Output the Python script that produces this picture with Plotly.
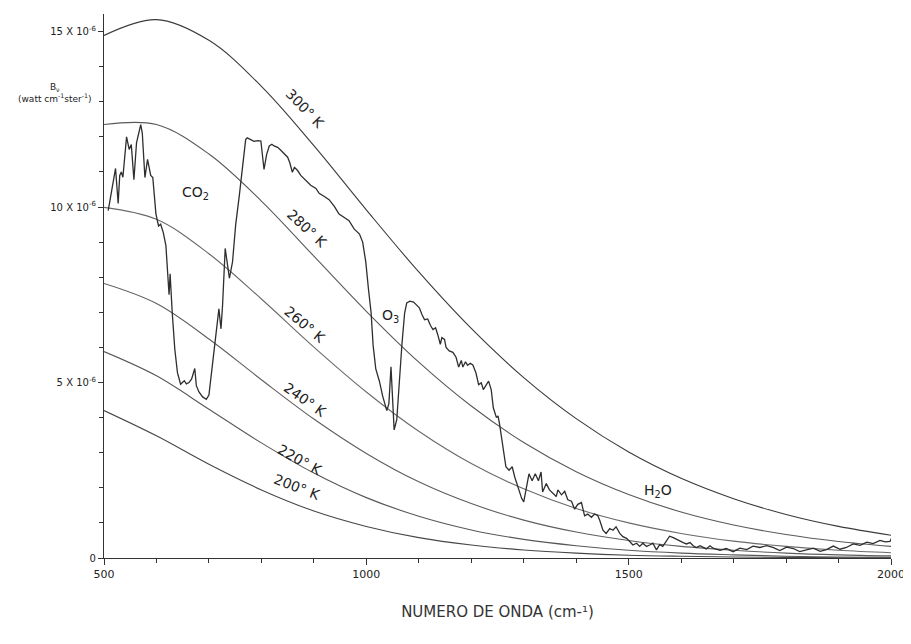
import plotly.graph_objects as go

# ---- data (values in units of 1e-6 watt cm^-1 ster^-1) ----
wavenumber = [500, 600, 700, 800, 900, 1000, 1100, 1200, 1300, 1400,
              1500, 1600, 1700, 1800, 1900, 2000]
b_300 = [14.89, 15.34, 14.75, 13.44, 11.75, 9.92, 8.15, 6.54, 5.14, 3.97,
         3.02, 2.27, 1.69, 1.24, 0.90, 0.65]
b_280 = [12.35, 12.35, 11.51, 10.17, 8.60, 7.03, 5.58, 4.33, 3.29, 2.46,
         1.81, 1.31, 0.94, 0.67, 0.47, 0.33]
b_260 = [9.99, 9.65, 8.67, 7.38, 6.01, 4.73, 3.61, 2.69, 1.97, 1.41,
         1.00, 0.70, 0.48, 0.33, 0.22, 0.15]
b_240 = [7.82, 7.25, 6.24, 5.08, 3.96, 2.98, 2.17, 1.55, 1.08, 0.74,
         0.50, 0.33, 0.22, 0.14, 0.09, 0.06]
b_220 = [5.88, 5.19, 4.24, 3.28, 2.42, 1.72, 1.19, 0.80, 0.53, 0.35,
         0.22, 0.14, 0.09, 0.05, 0.03, 0.02]
b_200 = [4.20, 3.48, 2.67, 1.94, 1.34, 0.90, 0.58, 0.37, 0.23, 0.14,
         0.08, 0.05, 0.03, 0.017, 0.009, 0.005]
temp_labels = ["300° K", "280° K", "260° K", "240° K", "220° K", "200° K"]

spec_nu = [508, 515, 522, 527, 530, 533, 536, 543, 548, 552, 557, 562, 570, 573,
           578, 583, 586, 589, 593, 599, 604, 608, 613, 618, 621, 624, 626, 628,
           630, 635, 640, 646, 653, 657, 662, 667, 673, 676, 681, 688, 695, 700,
           707, 713, 719, 723, 726, 731, 735, 739, 745, 751, 758, 765, 770, 773,
           780, 786, 793, 799, 805, 810, 815, 820, 824, 831, 837, 844, 850, 854,
           859, 863, 869, 875, 885, 894, 904, 910, 920, 929, 939, 948, 958, 967,
           977, 987, 993, 999, 1004, 1009, 1013, 1018, 1025, 1031, 1039, 1043,
           1047, 1050, 1053, 1058, 1063, 1068, 1073, 1077, 1083, 1090, 1095,
           1101, 1106, 1111, 1117, 1122, 1127, 1132, 1136, 1141, 1144, 1149,
           1152, 1158, 1165, 1171, 1176, 1181, 1184, 1189, 1193, 1198, 1203,
           1209, 1214, 1219, 1223, 1228, 1233, 1238, 1242, 1248, 1251, 1254,
           1257, 1262, 1266, 1272, 1278, 1283, 1290, 1296, 1300, 1305, 1310,
           1316, 1322, 1328, 1333, 1336, 1343, 1349, 1356, 1362, 1365, 1372,
           1378, 1384, 1391, 1397, 1403, 1410, 1416, 1422, 1429, 1435, 1441,
           1445, 1451, 1457, 1464, 1470, 1476, 1483, 1489, 1496, 1502, 1508,
           1515, 1521, 1527, 1534, 1540, 1546, 1553, 1559, 1565, 1572, 1578,
           1585, 1591, 1597, 1604, 1610, 1617, 1623, 1629, 1636, 1642, 1648,
           1655, 1661, 1674, 1686, 1699, 1712, 1725, 1737, 1750, 1763, 1775,
           1788, 1801, 1814, 1826, 1839, 1852, 1865, 1877, 1890, 1903, 1915,
           1928, 1941, 1954, 1966, 1979, 1989, 1998, 2002]
spec_b = [9.9, 10.5, 11.1, 10.1, 10.9, 11.0, 10.85, 12.0, 11.64, 11.78, 10.78, 11.83,
          12.35, 12.1, 10.84, 11.36, 11.12, 10.9, 10.84, 9.8, 9.46, 9.51, 9.27, 8.9,
          8.2, 7.5, 8.1, 7.4, 7.0, 5.94, 5.28, 4.95, 5.05, 4.96, 5.0, 5.1, 5.4,
          4.91, 4.73, 4.59, 4.52, 4.64, 5.49, 6.25, 7.1, 6.53, 7.2, 8.82, 8.35,
          7.97, 8.44, 9.5, 10.34, 11.2, 11.92, 11.97, 11.92, 11.87, 11.89, 11.88,
          11.07, 11.5, 11.74, 11.79, 11.74, 11.7, 11.62, 11.51, 11.42, 11.27,
          10.99, 11.13, 11.04, 10.9, 10.76, 10.62, 10.53, 10.39, 10.3, 10.21,
          10.02, 9.8, 9.7, 9.61, 9.37, 9.23, 9.0, 8.43, 7.67, 7.0, 6.05, 5.39,
          5.03, 4.62, 4.2, 4.4, 5.45, 4.41, 3.65, 3.94, 5.18, 6.12, 6.98, 7.27,
          7.32, 7.29, 7.22, 7.13, 6.94, 6.79, 6.81, 6.63, 6.51, 6.56, 6.37, 6.09,
          6.28, 6.23, 6.0, 5.9, 5.86, 5.72, 5.44, 5.63, 5.44, 5.59, 5.49, 5.55,
          5.5, 5.27, 4.94, 4.99, 4.8, 4.94, 5.04, 4.8, 4.28, 4.0, 4.05, 3.81,
          3.53, 3.0, 2.6, 2.5, 2.6, 2.3, 2.0, 1.7, 1.6, 2.0, 2.4, 2.2, 2.4, 2.2,
          2.45, 1.88, 2.12, 1.94, 1.84, 1.75, 1.94, 1.8, 1.9, 1.66, 1.62, 1.39,
          1.53, 1.58, 1.2, 1.25, 1.16, 1.25, 1.21, 1.07, 0.79, 0.7, 0.84, 0.79,
          0.89, 0.7, 0.61, 0.56, 0.47, 0.37, 0.42, 0.33, 0.42, 0.33, 0.37, 0.42,
          0.23, 0.38, 0.33, 0.48, 0.62, 0.58, 0.53, 0.49, 0.44, 0.4, 0.44, 0.35,
          0.3, 0.35, 0.3, 0.26, 0.35, 0.28, 0.22, 0.27, 0.18, 0.28, 0.24, 0.34,
          0.3, 0.35, 0.3, 0.21, 0.31, 0.27, 0.18, 0.23, 0.28, 0.19, 0.24, 0.34,
          0.25, 0.3, 0.4, 0.36, 0.45, 0.41, 0.5, 0.46, 0.47, 0.6]

ytick_vals = [0, 5, 10, 15]
ytick_text = ["0", "5 X 10<sup>-6</sup>", "10 X 10<sup>-6</sup>", "15 X 10<sup>-6</sup>"]
xtick_vals = [500, 1000, 1500, 2000]
xtick_text = ["500", "1000", "1500", "2000"]

curves = [b_300, b_280, b_260, b_240, b_220, b_200]
curve_colors = ["#3a3a3a", "#5a5a5a", "#6a6a6a", "#5e5e5e", "#585858", "#474747"]

fig = go.Figure()
for vals, col, name in zip(curves, curve_colors, temp_labels):
    fig.add_trace(go.Scatter(x=wavenumber, y=vals, mode="lines", name=name,
                             line=dict(color=col, width=1.1, shape="spline"),
                             hoverinfo="skip"))
fig.add_trace(go.Scatter(x=spec_nu, y=spec_b, mode="lines", name="espectro",
                         line=dict(color="#2e2e2e", width=1.3)))

# curve labels (position in data coordinates, angle along curve)
label_pos = [(884, 12.8, 46), (886, 9.4, 43), (884, 6.65, 40),
             (884, 4.5, 35), (874, 2.8, 29), (868, 2.02, 21)]
font_main = "DejaVu Sans"
for (lx, ly, ang), txt in zip(label_pos, temp_labels):
    fig.add_annotation(x=lx, y=ly, text=txt, showarrow=False, textangle=ang,
                       font=dict(family=font_main, size=14, color="#222"))

fig.add_annotation(x=674, y=10.4, text="CO<sub>2</sub>", showarrow=False,
                   font=dict(family=font_main, size=14, color="#222"))
fig.add_annotation(x=1046, y=6.9, text="O<sub>3</sub>", showarrow=False,
                   font=dict(family=font_main, size=14, color="#222"))
fig.add_annotation(x=1555, y=1.9, text="H<sub>2</sub>O", showarrow=False,
                   font=dict(family=font_main, size=14, color="#222"))

# y-axis title
fig.add_annotation(xref="paper", yref="paper", x=-0.062, y=0.855,
                   xanchor="center", yanchor="middle",
                   text="B<sub>ν</sub><br>(watt cm<sup>-1</sup>ster<sup>-1</sup>)",
                   showarrow=False, align="center",
                   font=dict(family=font_main, size=9, color="#222"))

fig.update_layout(
    width=903, height=628,
    margin=dict(l=96, r=20, t=6, b=78, autoexpand=False),
    paper_bgcolor="white", plot_bgcolor="white",
    showlegend=False,
    xaxis=dict(range=[500, 2000], tickvals=xtick_vals, ticktext=xtick_text,
               showgrid=False, zeroline=False, showline=True, linecolor="#333",
               linewidth=1.2, ticks="outside", ticklen=6, tickcolor="#333",
               ticklabeloverflow="allow",
               minor=dict(dtick=100, ticks="outside", ticklen=4, tickcolor="#333"),
               tickfont=dict(family=font_main, size=11, color="#222"),
               title=dict(text="NUMERO DE ONDA (cm-¹)", standoff=26,
                          font=dict(family=font_main, size=15, color="#333"))),
    yaxis=dict(range=[0, 15.5], tickvals=ytick_vals, ticktext=ytick_text,
               showgrid=False, zeroline=False, showline=True, linecolor="#333",
               linewidth=1.2, ticks="outside", ticklen=5, tickcolor="#333",
               minor=dict(dtick=1, ticks="outside", ticklen=4, tickcolor="#333"),
               tickfont=dict(family=font_main, size=10, color="#222")),
)

fig.write_html("out.html")
